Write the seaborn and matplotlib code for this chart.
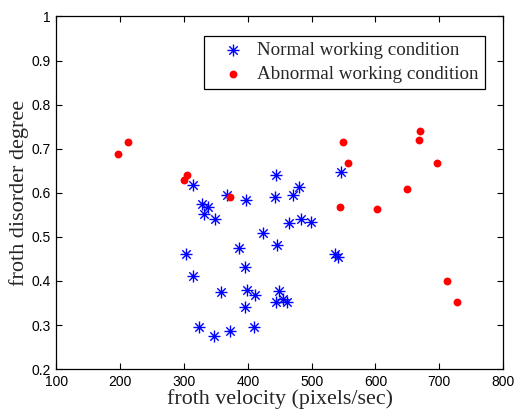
import matplotlib
matplotlib.use("Agg")
import matplotlib.pyplot as plt
import seaborn as sns
import pandas as pd
from matplotlib.path import Path

normal_x = [315, 328, 338, 332, 349, 368, 398, 303, 314, 358, 323, 347, 372, 386, 395,
            399, 395, 412, 410, 424, 444, 443, 471, 481, 446, 464, 484, 499, 449, 445,
            455, 461, 537, 541, 546]
normal_y = [0.617, 0.574, 0.567, 0.552, 0.541, 0.595, 0.584, 0.461, 0.412, 0.375, 0.295,
            0.276, 0.286, 0.474, 0.431, 0.380, 0.342, 0.369, 0.295, 0.508, 0.641, 0.591,
            0.594, 0.614, 0.481, 0.532, 0.541, 0.533, 0.378, 0.352, 0.359, 0.352, 0.462,
            0.455, 0.648]
abn_x = [197, 213, 300, 305, 372, 549, 557, 545, 603, 650, 668, 670, 696, 712, 728]
abn_y = [0.687, 0.716, 0.630, 0.641, 0.590, 0.716, 0.667, 0.567, 0.564, 0.608, 0.720,
         0.740, 0.667, 0.401, 0.352]
labels = ["Normal working condition", "Abnormal working condition"]
xticks = [100, 200, 300, 400, 500, 600, 700, 800]
yticks = [0.2, 0.3, 0.4, 0.5, 0.6, 0.7, 0.8, 0.9, 1.0]
ytick_labels = ["0.2", "0.3", "0.4", "0.5", "0.6", "0.7", "0.8", "0.9", "1"]

sns.set_style("ticks")
plt.rcParams["font.family"] = ["Liberation Sans", "DejaVu Sans"]

fig = plt.figure(figsize=(5.16, 4.12), dpi=100)
ax = fig.add_axes([0.109, 0.104, 0.866, 0.856])

df_n = pd.DataFrame({"v": normal_x, "d": normal_y})
df_a = pd.DataFrame({"v": abn_x, "d": abn_y})

# asterisk marker (plus + cross)
ast = Path([(-1, 0), (1, 0), (0, -1), (0, 1), (-0.7, -0.7), (0.7, 0.7), (-0.7, 0.7), (0.7, -0.7)],
           [Path.MOVETO, Path.LINETO] * 4)

sns.scatterplot(data=df_n, x="v", y="d", ax=ax, marker=ast, s=75, color="#0000ff",
                linewidth=1.0, edgecolor="#0000ff", label=labels[0])
sns.scatterplot(data=df_a, x="v", y="d", ax=ax, marker="o", s=32, color="#ff0000",
                linewidth=0, label=labels[1])

ax.set_xlim(100, 800)
ax.set_ylim(0.2, 1.0)
ax.set_xticks(xticks)
ax.set_yticks(yticks)
ax.set_yticklabels(ytick_labels)
ax.tick_params(direction="in", top=True, right=True, length=4, width=0.8,
               labelsize=10, colors="black", pad=4)
for sp in ax.spines.values():
    sp.set_visible(True)
    sp.set_linewidth(0.9)
    sp.set_color("black")

ax.set_xlabel("froth velocity (pixels/sec)", fontfamily="Liberation Serif", fontsize=15.8, labelpad=0)
ax.set_ylabel("froth disorder degree", fontfamily="Liberation Serif", fontsize=16, labelpad=2)

leg = ax.legend(loc="upper right", bbox_to_anchor=(0.96, 0.945), borderaxespad=0,
                frameon=True, fancybox=False, edgecolor="black", framealpha=1,
                prop={"family": "Liberation Serif", "size": 13.7}, handletextpad=0.1,
                borderpad=0.33, labelspacing=0.32, handlelength=2.4)
leg.get_frame().set_linewidth(0.9)

fig.savefig("out.png", dpi=100)
